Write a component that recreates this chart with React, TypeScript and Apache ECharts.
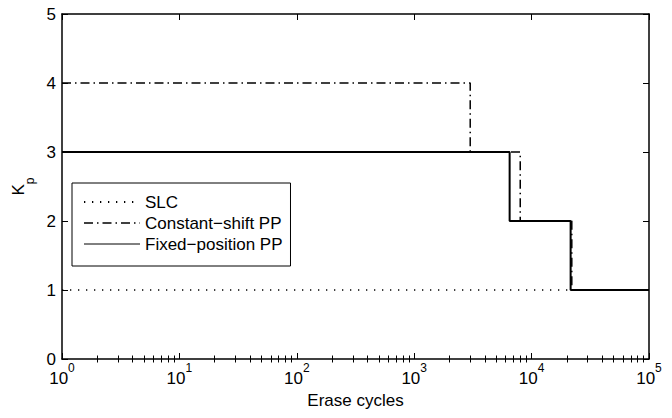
import React, { useEffect, useRef } from "react";
import * as echarts from "echarts";

// ---- data ----
const seriesNames = ["SLC", "Constant\u2212shift PP", "Fixed\u2212position PP"];
const slcX = [1, 100000];
const slcY = [1, 1];
const constShiftX = [1, 3000, 8000, 22000, 100000];
const constShiftY = [4, 3, 2, 1, 1];
const fixedPosX = [1, 6500, 21500, 100000];
const fixedPosY = [3, 2, 1, 1];
const xRange = [1, 100000];
const yRange = [0, 5];
const xAxisTitle = "Erase cycles";

const FONT = '"Liberation Sans", Arial, Helvetica, sans-serif';

const pairs = (xs: number[], ys: number[]) => xs.map((x, i) => [x, ys[i]]);

// minor tick positions of the log axis, expressed in decades
const minorTicks: number[] = [];
for (let d = 0; d < 5; d++) {
  for (let k = 2; k <= 9; k++) minorTicks.push(d + Math.log10(k));
}

const axisLine = { show: true, onZero: false, lineStyle: { color: "#000", width: 1.5 } };

export default function App() {
  const ref = useRef<HTMLDivElement>(null);
  useEffect(() => {
    const chart = echarts.init(ref.current!, null, { renderer: "svg" });
    const minorAxis = (position: "top" | "bottom") => ({
      type: "value",
      position,
      min: 0,
      max: 5,
      axisLine: { show: false },
      axisLabel: { show: false },
      splitLine: { show: false },
      axisTick: {
        show: true,
        inside: true,
        length: 3.5,
        customValues: minorTicks,
        lineStyle: { color: "#000", width: 1 },
      },
    });
    const option: any = {
      animation: false,
      backgroundColor: "#fff",
      textStyle: { fontFamily: FONT },
      grid: { left: 62, right: 23, top: 14, bottom: 59, containLabel: false, outerBoundsMode: "none" },
      legend: {
        show: true,
        orient: "vertical",
        left: 72,
        top: 183,
        padding: [9, 8, 12, 11],
        itemGap: 1,
        itemWidth: 56,
        itemHeight: 20,
        borderColor: "#000",
        borderWidth: 1,
        borderRadius: 0,
        backgroundColor: "#fff",
        data: [
          { name: seriesNames[0] },
          { name: seriesNames[1], lineStyle: { width: 1.3 } },
          { name: seriesNames[2], lineStyle: { width: 1 } },
        ],
        textStyle: { fontSize: 17, color: "#000", fontFamily: FONT, lineHeight: 20 },
        itemStyle: { color: "rgba(0,0,0,0)", borderWidth: 0, opacity: 0 },
      },
      xAxis: [
        {
          type: "log",
          logBase: 10,
          min: xRange[0],
          max: xRange[1],
          position: "bottom",
          name: xAxisTitle,
          nameLocation: "middle",
          nameGap: 33,
          nameTextStyle: { fontSize: 17, color: "#000", fontFamily: FONT },
          axisLine,
          axisTick: { show: true, inside: true, length: 6, lineStyle: { color: "#000", width: 1 } },
          splitLine: { show: false },
          minorTick: { show: false },
          axisLabel: {
            show: true,
            margin: 10,
            color: "#000",
            formatter: (v: number) => `{b|10}{s|${Math.round(Math.log10(v))}}`,
            rich: {
              b: { fontSize: 17, lineHeight: 18, verticalAlign: "bottom", color: "#000", fontFamily: FONT },
              s: {
                fontSize: 12,
                lineHeight: 12,
                padding: [0, 0, 13, 0],
                verticalAlign: "bottom",
                color: "#000",
                fontFamily: FONT,
              },
            },
          },
        },
        {
          type: "log",
          logBase: 10,
          min: xRange[0],
          max: xRange[1],
          position: "top",
          axisLine,
          axisTick: { show: true, inside: true, length: 6, lineStyle: { color: "#000", width: 1 } },
          axisLabel: { show: false },
          splitLine: { show: false },
        },
        minorAxis("bottom"),
        minorAxis("top"),
      ],
      yAxis: [
        {
          type: "value",
          position: "left",
          min: yRange[0],
          max: yRange[1],
          interval: 1,
          name: "{k|K}{p|p}",
          nameLocation: "middle",
          nameRotate: 90,
          nameGap: 28,
          nameTextStyle: {
            rich: {
              k: { fontSize: 17, lineHeight: 18, verticalAlign: "top", color: "#000", fontFamily: FONT },
              p: {
                fontSize: 12,
                lineHeight: 12,
                padding: [14, 0, 0, 0],
                verticalAlign: "top",
                color: "#000",
                fontFamily: FONT,
              },
            },
          },
          axisLine,
          axisTick: { show: true, inside: true, length: 6, lineStyle: { color: "#000", width: 1 } },
          axisLabel: { show: true, margin: 6, fontSize: 17, color: "#000", fontFamily: FONT },
          splitLine: { show: false },
        },
        {
          type: "value",
          position: "right",
          min: yRange[0],
          max: yRange[1],
          interval: 1,
          axisLine,
          axisTick: { show: true, inside: true, length: 6, lineStyle: { color: "#000", width: 1 } },
          axisLabel: { show: false },
          splitLine: { show: false },
        },
      ],
      series: [
        {
          name: seriesNames[0],
          type: "line",
          xAxisIndex: 0,
          yAxisIndex: 0,
          symbol: "none",
          data: pairs(slcX, slcY),
          itemStyle: { color: "#000" },
          lineStyle: { color: "#000", width: 1.3, type: [1.3, 6.7], cap: "butt" },
          z: 2,
        },
        {
          name: seriesNames[1],
          type: "line",
          xAxisIndex: 0,
          yAxisIndex: 0,
          symbol: "none",
          step: "end",
          data: pairs(constShiftX, constShiftY),
          itemStyle: { color: "#000" },
          lineStyle: { color: "#000", width: 1.5, type: [9, 4, 1.5, 4], cap: "butt" },
          z: 3,
        },
        {
          name: seriesNames[2],
          type: "line",
          xAxisIndex: 0,
          yAxisIndex: 0,
          symbol: "none",
          step: "end",
          data: pairs(fixedPosX, fixedPosY),
          itemStyle: { color: "#000" },
          lineStyle: { color: "#000", width: 2, type: "solid" },
          z: 4,
        },
      ],
    };
    chart.setOption(option);
    return () => chart.dispose();
  }, []);
  return (
    <div
      ref={ref}
      style={{ position: "absolute", left: 0, top: 0, width: 672, height: 418, background: "#fff" }}
    />
  );
}
